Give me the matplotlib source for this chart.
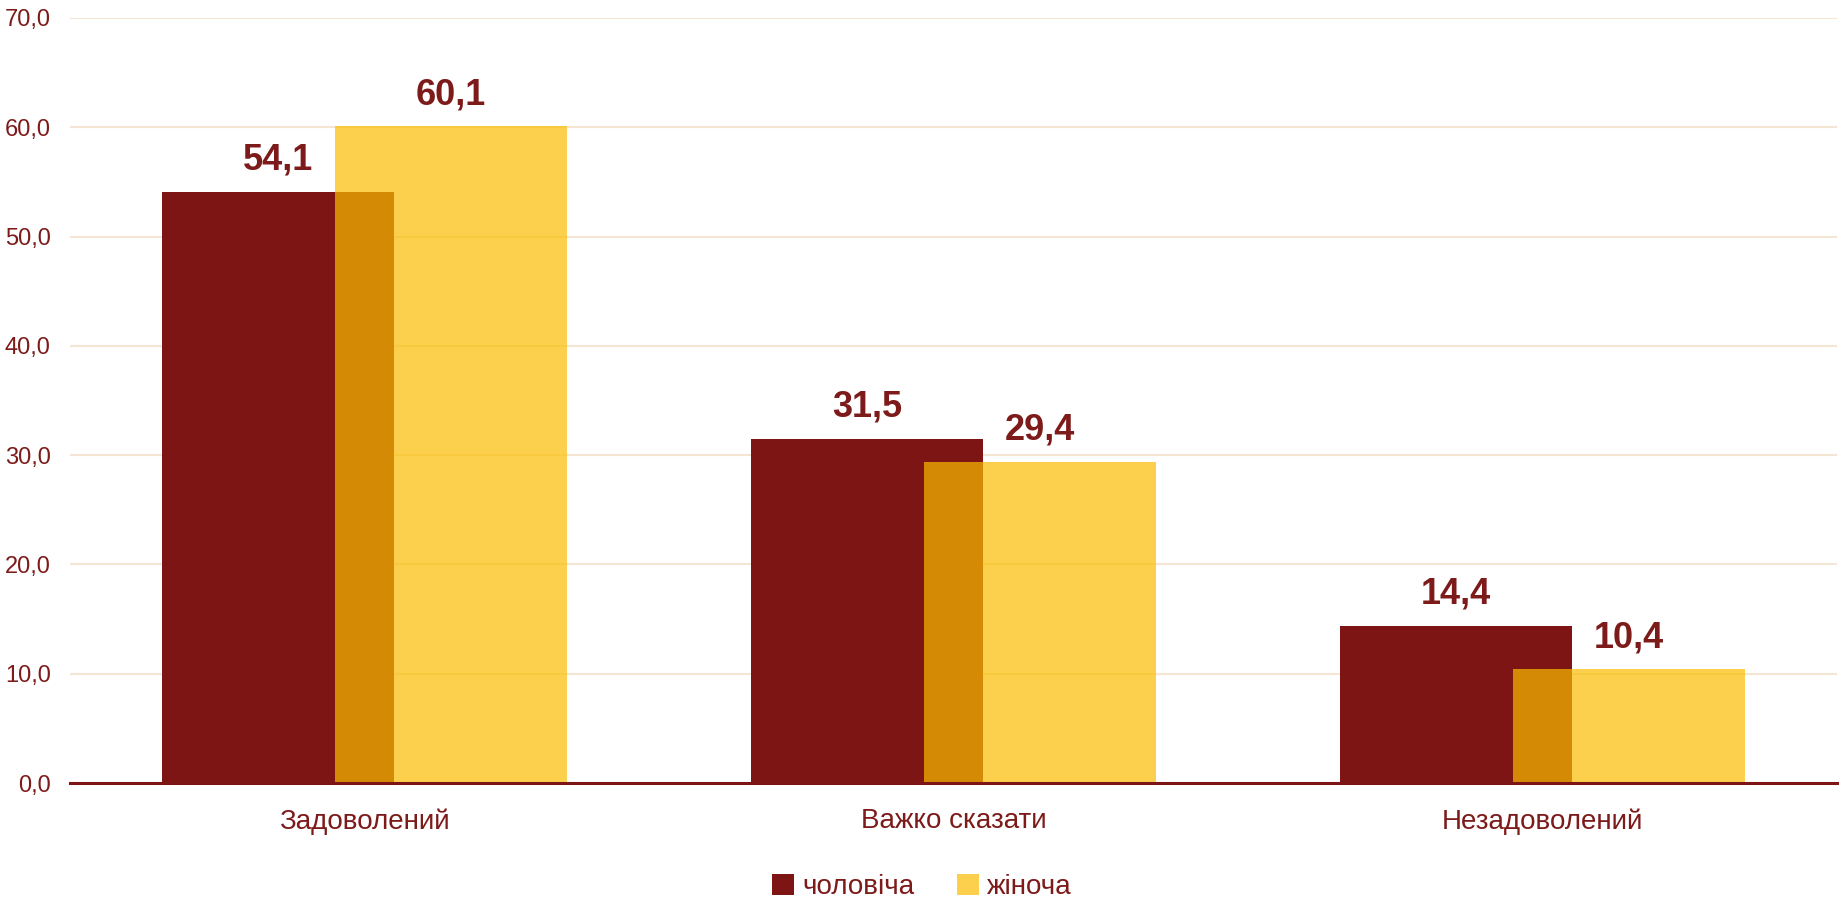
import numpy as np
import matplotlib.pyplot as plt
from matplotlib.ticker import FuncFormatter

categories = ['Задоволений', 'Важко сказати', 'Незадоволений']
male = [54.1, 31.5, 14.4]
female = [60.1, 29.4, 10.4]
series_names = ['чоловіча', 'жіноча']

maroon = '#7d1515'
yellow = '#fcbd00'
text_col = '#7d1a1a'
plt.rcParams['font.family'] = ['Liberation Sans', 'DejaVu Sans']

fig = plt.figure(figsize=(18.44, 8.99), dpi=100)
ax = fig.add_axes([0.038, 0.129, 0.958, 0.851])

x = np.arange(len(categories))
w = 0.394
off = 0.147
b1 = ax.bar(x - off, male, w, color=maroon, zorder=2, label=series_names[0])
b2 = ax.bar(x + off, female, w, color=yellow, alpha=0.7, zorder=3, label=series_names[1])

for bars, vals in ((b1, male), (b2, female)):
    for r, v in zip(bars, vals):
        ax.annotate(f'{v:.1f}'.replace('.', ','),
                    (r.get_x() + r.get_width() / 2, v),
                    xytext=(0, 10), textcoords='offset points',
                    ha='center', va='bottom', fontsize=26,
                    fontweight='bold', color=text_col)

ax.set_xlim(-0.5, 2.5)
ax.set_ylim(0, 70)
ax.set_yticks(np.arange(0, 71, 10))
ax.yaxis.set_major_formatter(FuncFormatter(lambda v, p: f'{v:.1f}'.replace('.', ',')))
ax.set_xticks(x)
ax.set_xticklabels(categories, fontsize=20, color=text_col)
ax.tick_params(axis='y', length=0, pad=14, labelsize=17, labelcolor=text_col)
ax.tick_params(axis='x', length=0, pad=18)

ax.grid(axis='y', color='#f5e6d3', linewidth=1.5, zorder=0)
for s in ['top', 'right', 'left']:
    ax.spines[s].set_visible(False)
ax.spines['bottom'].set_color(maroon)
ax.spines['bottom'].set_linewidth(2.2)
ax.spines['bottom'].set_zorder(4)

leg = fig.legend(loc='lower center', bbox_to_anchor=(0.5, -0.029), ncol=2,
                 frameon=False, fontsize=20, handlelength=0.8, handleheight=0.8,
                 handletextpad=0.3, columnspacing=1.5)
for t in leg.get_texts():
    t.set_color(text_col)

fig.savefig('out.png', dpi=100)
